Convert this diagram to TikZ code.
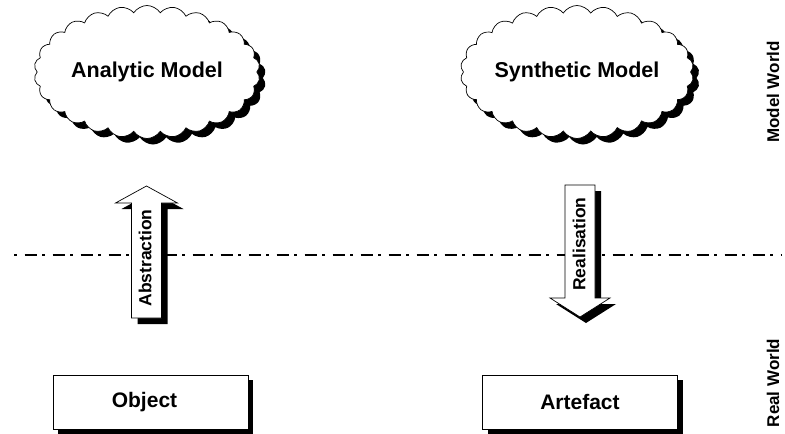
\documentclass[tikz,border=0pt]{standalone}
\usepackage{fontspec}
\setmainfont{Liberation Sans}
\usetikzlibrary{shapes.symbols,shadows}
\begin{document}
\begin{tikzpicture}[x=1pt,y=-1pt,
  shadowed/.style={drop shadow={shadow xshift=#1, shadow yshift=-#1, fill=black, opacity=1}},
  cloudbox/.style={cloud, cloud puffs=26, cloud puff arc=115, cloud ignores aspect,
    minimum width=226pt, minimum height=133pt, draw=black, line width=0.7pt, fill=white,
    font=\bfseries\fontsize{21.5}{24}\selectfont, inner sep=0pt, shadowed=6pt},
  worldbox/.style={draw=black, line width=0.7pt, fill=white, minimum width=195pt,
    minimum height=54pt, inner sep=0pt, font=\bfseries\fontsize{21}{24}\selectfont, shadowed=5pt},
  arrowshape/.style={draw=black, line width=0.7pt, fill=white, shadowed=6pt},
  arrowtext/.style={rotate=90, font=\bfseries\fontsize{17.5}{20}\selectfont, inner sep=0pt},
  sidetext/.style={rotate=90, font=\bfseries\fontsize{17}{20}\selectfont, inner sep=0pt},
  dashdotline/.style={line width=1.6pt, dash pattern=on 2.5pt off 8pt on 12pt off 5.5pt}
]
\useasboundingbox (0,0) rectangle (785,434);
\fill[white] (0,0) rectangle (785,434);

% separator line
\coordinate (dl) at (14,255);
\coordinate (dr) at (781,255);
\draw[dashdotline] (dl) -- (dr);

% clouds
\node[cloudbox] (analytic) at (147,72) {Analytic Model};
\node[cloudbox] (synthetic) at (577,72) {Synthetic Model};

% boxes
\node[worldbox] (object) at (150.5,402) {Object\kern12pt};
\node[worldbox] (artefact) at (580,402) {Artefact};

% abstraction arrow (up)
\draw[arrowshape] (131.5,318) -- (131.5,203) -- (115.5,203) -- (146.5,186) -- (177.5,203)
  -- (161.5,203) -- (161.5,318) -- cycle;
\node[arrowtext] (abstraction) at (145,258) {Abstraction};

% realisation arrow (down)
\draw[arrowshape] (565,185) -- (565,298) -- (550,298) -- (580,317) -- (610,298)
  -- (595,298) -- (595,185) -- cycle;
\node[arrowtext] (realisation) at (579,244) {Realisation};

% side labels
\node[sidetext] (modelworld) at (773,92) {Model World};
\node[sidetext] (realworld) at (773,383) {Real World};
\end{tikzpicture}
\end{document}
